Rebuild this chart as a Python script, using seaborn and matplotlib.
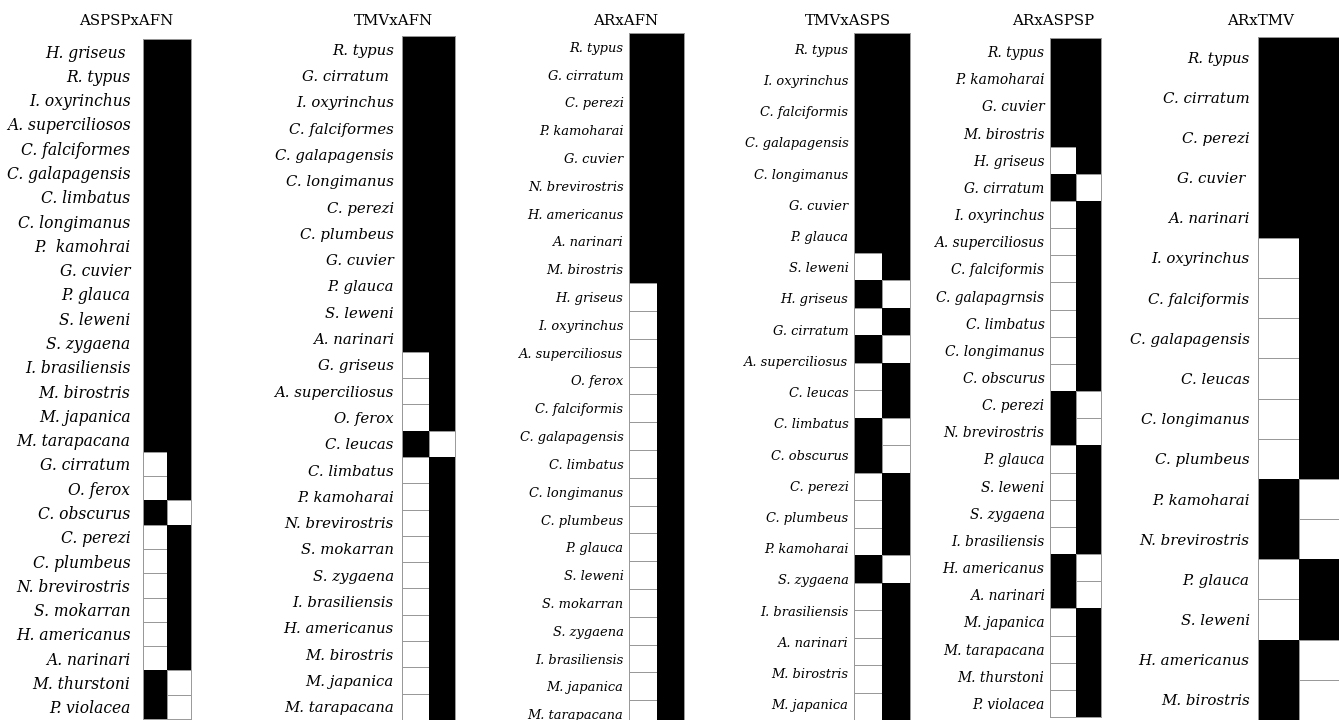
import numpy as np
import seaborn as sns
import matplotlib.pyplot as plt
from matplotlib.colors import ListedColormap

# Panel 1: ASPSP x AFN
aspsp_afn_species = ['H. griseus ', 'R. typus', 'I. oxyrinchus', 'A. superciliosos', 'C. falciformes',
                     'C. galapagensis', 'C. limbatus', 'C. longimanus', 'P.  kamohrai', 'G. cuvier',
                     'P. glauca', 'S. leweni', 'S. zygaena', 'I. brasiliensis', 'M. birostris',
                     'M. japanica', 'M. tarapacana', 'G. cirratum', 'O. ferox', 'C. obscurus',
                     'C. perezi', 'C. plumbeus', 'N. brevirostris', 'S. mokarran', 'H. americanus',
                     'A. narinari', 'M. thurstoni', 'P. violacea']
aspsp_afn_left = [1, 1, 1, 1, 1, 1, 1, 1, 1, 1, 1, 1, 1, 1, 1, 1, 1, 0, 0, 1, 0, 0, 0, 0, 0, 0, 1, 1]
aspsp_afn_right = [1, 1, 1, 1, 1, 1, 1, 1, 1, 1, 1, 1, 1, 1, 1, 1, 1, 1, 1, 0, 1, 1, 1, 1, 1, 1, 0, 0]

# Panel 2: TMV x AFN
tmv_afn_species = ['R. typus', 'G. cirratum ', 'I. oxyrinchus', 'C. falciformes', 'C. galapagensis',
                   'C. longimanus', 'C. perezi', 'C. plumbeus', 'G. cuvier', 'P. glauca', 'S. leweni',
                   'A. narinari', 'G. griseus', 'A. superciliosus', 'O. ferox', 'C. leucas',
                   'C. limbatus', 'P. kamoharai', 'N. brevirostris', 'S. mokarran', 'S. zygaena',
                   'I. brasiliensis', 'H. americanus', 'M. birostris', 'M. japanica', 'M. tarapacana']
tmv_afn_left = [1, 1, 1, 1, 1, 1, 1, 1, 1, 1, 1, 1, 0, 0, 0, 1, 0, 0, 0, 0, 0, 0, 0, 0, 0, 0]
tmv_afn_right = [1, 1, 1, 1, 1, 1, 1, 1, 1, 1, 1, 1, 1, 1, 1, 0, 1, 1, 1, 1, 1, 1, 1, 1, 1, 1]

# Panel 3: AR x AFN
ar_afn_species = ['R. typus', 'G. cirratum', 'C. perezi', 'P. kamoharai', 'G. cuvier',
                  'N. brevirostris', 'H. americanus', 'A. narinari', 'M. birostris', 'H. griseus',
                  'I. oxyrinchus', 'A. superciliosus', 'O. ferox', 'C. falciformis', 'C. galapagensis',
                  'C. limbatus', 'C. longimanus', 'C. plumbeus', 'P. glauca', 'S. leweni',
                  'S. mokarran', 'S. zygaena', 'I. brasiliensis', 'M. japanica', 'M. tarapacana']
ar_afn_left = [1, 1, 1, 1, 1, 1, 1, 1, 1, 0, 0, 0, 0, 0, 0, 0, 0, 0, 0, 0, 0, 0, 0, 0, 0]
ar_afn_right = [1, 1, 1, 1, 1, 1, 1, 1, 1, 1, 1, 1, 1, 1, 1, 1, 1, 1, 1, 1, 1, 1, 1, 1, 1]

# Panel 4: TMV x ASPS (more cells than labels in the original figure)
tmv_asps_species = ['R. typus', 'I. oxyrinchus', 'C. falciformis', 'C. galapagensis', 'C. longimanus',
                    'G. cuvier', 'P. glauca', 'S. leweni', 'H. griseus', 'G. cirratum',
                    'A. superciliosus', 'C. leucas', 'C. limbatus', 'C. obscurus', 'C. perezi',
                    'C. plumbeus', 'P. kamoharai', 'S. zygaena', 'I. brasiliensis', 'A. narinari',
                    'M. birostris', 'M. japanica']
tmv_asps_left = [1, 1, 1, 1, 1, 1, 1, 1, 0, 1, 0, 1, 0, 0, 1, 1, 0, 0, 0, 1, 0, 0, 0, 0, 0]
tmv_asps_right = [1, 1, 1, 1, 1, 1, 1, 1, 1, 0, 1, 0, 1, 1, 0, 0, 1, 1, 1, 0, 1, 1, 1, 1, 1]

# Panel 5: AR x ASPSP
ar_aspsp_species = ['R. typus', 'P. kamoharai', 'G. cuvier', 'M. birostris', 'H. griseus',
                    'G. cirratum', 'I. oxyrinchus', 'A. superciliosus', 'C. falciformis',
                    'C. galapagrnsis', 'C. limbatus', 'C. longimanus', 'C. obscurus', 'C. perezi',
                    'N. brevirostris', 'P. glauca', 'S. leweni', 'S. zygaena', 'I. brasiliensis',
                    'H. americanus', 'A. narinari', 'M. japanica', 'M. tarapacana', 'M. thurstoni',
                    'P. violacea']
ar_aspsp_left = [1, 1, 1, 1, 0, 1, 0, 0, 0, 0, 0, 0, 0, 1, 1, 0, 0, 0, 0, 1, 1, 0, 0, 0, 0]
ar_aspsp_right = [1, 1, 1, 1, 1, 0, 1, 1, 1, 1, 1, 1, 1, 0, 0, 1, 1, 1, 1, 0, 0, 1, 1, 1, 1]

# Panel 6: AR x TMV
ar_tmv_species = ['R. typus', 'C. cirratum', 'C. perezi', 'G. cuvier ', 'A. narinari',
                  'I. oxyrinchus', 'C. falciformis', 'C. galapagensis', 'C. leucas', 'C. longimanus',
                  'C. plumbeus', 'P. kamoharai', 'N. brevirostris', 'P. glauca', 'S. leweni',
                  'H. americanus', 'M. birostris']
ar_tmv_left = [1, 1, 1, 1, 1, 0, 0, 0, 0, 0, 0, 1, 1, 0, 0, 1, 1]
ar_tmv_right = [1, 1, 1, 1, 1, 1, 1, 1, 1, 1, 1, 0, 0, 1, 1, 0, 0]

panels = [
    # title, species, left, right, box (left px, top px, width px, height px), label size, pad, title x
    ('ASPSPxAFN', aspsp_afn_species, aspsp_afn_left, aspsp_afn_right, (143, 39, 48, 680), 11.2, 9, 126),
    ('TMVxAFN', tmv_afn_species, tmv_afn_left, tmv_afn_right, (402, 36, 53, 684), 10.7, 6, 393),
    ('ARxAFN', ar_afn_species, ar_afn_left, ar_afn_right, (629, 33, 55, 695), 9.35, 4, 626),
    ('TMVxASPS', tmv_asps_species, tmv_asps_left, tmv_asps_right, (854, 33, 56, 687), 9.35, 4, 848),
    ('ARxASPSP', ar_aspsp_species, ar_aspsp_left, ar_aspsp_right, (1050, 38, 51, 679), 9.95, 4, 1053),
    ('ARxTMV', ar_tmv_species, ar_tmv_left, ar_tmv_right, (1258, 37, 82, 683), 10.85, 6, 1261),
]

W, H = 1339, 720
fig = plt.figure(figsize=(W / 100, H / 100), dpi=100)

for title, species, left, right, box, fs, pad, tx in panels:
    x0, y0, w, h = box
    ax = fig.add_axes([x0 / W, 1 - (y0 + h) / H, w / W, h / H])
    grid = np.array([left, right]).T
    # white cells with thin grey borders, then the black cells on top
    sns.heatmap(grid, ax=ax, mask=grid == 1, cmap=ListedColormap(['white']), cbar=False,
                linewidths=0.6, linecolor='#999999', xticklabels=False, yticklabels=False)
    sns.heatmap(grid, ax=ax, mask=grid == 0, cmap=ListedColormap(['black']), cbar=False,
                linewidths=0, xticklabels=False, yticklabels=False)
    n_cells = len(left)
    n_lab = len(species)
    ax.set_yticks((np.arange(n_lab) + 0.5) * n_cells / n_lab)
    ax.set_yticklabels(species, fontsize=fs, family='DejaVu Serif', style='italic', rotation=0)
    ax.tick_params(axis='y', length=0, pad=pad)
    for s in ax.spines.values():
        s.set_visible(True)
        s.set_color('#999999')
        s.set_linewidth(0.7)
    fig.text(tx / W, 1 - 21 / H, title, ha='center', va='center', fontsize=10.8,
             family='DejaVu Serif')

fig.savefig('out.png', dpi=100)
